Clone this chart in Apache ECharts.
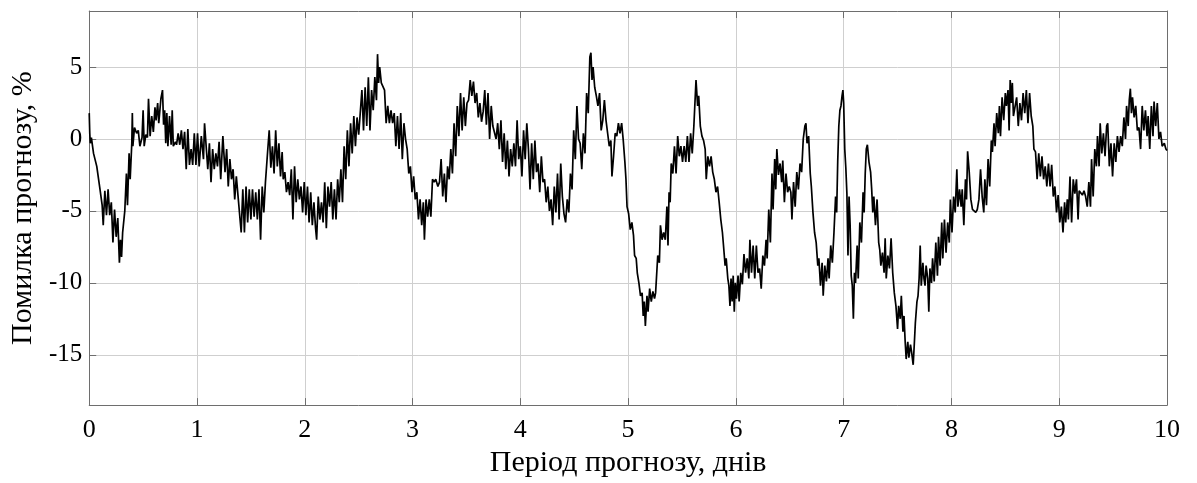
<!DOCTYPE html>
<html>
<head>
<meta charset="utf-8">
<script src="https://cdn.jsdelivr.net/npm/echarts@6/dist/echarts.min.js"></script>
<style>
html,body{margin:0;padding:0;background:#fff;}
#c{width:1197px;height:483px;}
</style>
</head>
<body>
<div id="c"></div>
<script>
// Forecast error (%) vs forecast period (days): [day, error]
const seg0to2 = [
[0,1.8],[0.005,0.4],[0.01,-0.3],[0.02,0.1],[0.04,-1.0],[0.07,-1.9],[0.10,-3.5],[0.12,-4.6],[0.13,-6.0],[0.145,-3.6],
[0.16,-5.3],[0.175,-3.5],[0.19,-5.3],[0.205,-4.4],[0.22,-7.2],[0.235,-4.9],[0.25,-6.8],[0.265,-5.5],[0.28,-8.6],[0.29,-7.0],
[0.30,-8.2],[0.31,-6.5],[0.33,-5.0],[0.345,-2.4],[0.355,-4.6],[0.37,-1.0],[0.38,-2.8],[0.395,-0.3],[0.40,1.8],[0.405,-0.5],
[0.42,0.8],[0.44,0.4],[0.455,0.6],[0.47,-0.5],[0.49,0.1],[0.50,2.0],[0.51,-0.5],[0.525,0.3],[0.54,0.1],[0.55,2.8],
[0.565,0.2],[0.58,1.6],[0.595,0.5],[0.61,2.2],[0.62,1.3],[0.635,2.5],[0.645,1.1],[0.665,2.8],[0.68,3.4],[0.69,1.0],
[0.70,2.0],[0.71,-0.3],[0.72,1.8],[0.73,-0.5],[0.745,1.6],[0.76,-0.4],[0.77,2.0],[0.78,-0.5],[0.80,-0.2],[0.81,-0.4],
[0.825,0.4],[0.84,-0.4],[0.855,0.6],[0.87,-0.7],[0.885,0.5],[0.90,-2.1],[0.915,0.7],[0.93,-1.8],[0.945,-0.7],[0.96,-1.8],
[0.975,0.4],[0.99,-1.8],[1.005,0.4],[1.02,-1.9],[1.04,0.2],[1.06,-1.4],[1.07,1.1],[1.085,-0.5],[1.10,-2.1],[1.115,-0.3],
[1.13,-3.0],[1.145,-0.7],[1.16,-2.1],[1.175,-1.0],[1.19,-1.9],[1.205,-0.2],[1.22,-2.8],[1.24,0.2],[1.26,-2.3],[1.275,-0.7],
[1.29,-3.3],[1.305,-1.4],[1.32,-2.8],[1.335,-2.1],[1.35,-4.2],[1.365,-2.6],[1.38,-3.9],[1.395,-4.0],[1.41,-6.5],[1.425,-3.5],
[1.44,-6.5],[1.455,-3.3],[1.47,-5.8],[1.485,-3.5],[1.50,-5.6],[1.515,-3.5],[1.53,-5.4],[1.545,-3.7],[1.56,-5.6],[1.575,-3.5],
[1.59,-7.0],[1.605,-3.3],[1.62,-5.1],[1.635,-3.0],[1.655,-0.9],[1.67,0.6],[1.685,-2.0],[1.70,-0.5],[1.715,-2.4],[1.73,0.6],
[1.745,-1.9],[1.76,-0.3],[1.775,-2.6],[1.79,-0.9],[1.80,-2.8],[1.815,-2.3],[1.83,-3.7],[1.845,-3.0],[1.86,-3.9],[1.875,-2.1],
[1.89,-5.6],[1.905,-1.9],[1.92,-4.4],[1.935,-2.8],[1.95,-4.2],[1.965,-3.3],[1.98,-5.1],[1.995,-3.0]
];
const seg2to4 = [
[2.01,-5.3],[2.025,-3.3],[2.04,-5.8],[2.055,-3.7],[2.07,-6.0],[2.085,-4.4],[2.10,-6.2],[2.11,-7.0],[2.125,-4.0],[2.14,-5.6],
[2.155,-4.4],[2.17,-5.8],[2.185,-3.0],[2.20,-6.2],[2.215,-3.3],[2.23,-4.7],[2.245,-3.0],[2.26,-5.6],[2.275,-3.5],[2.29,-5.6],
[2.305,-2.8],[2.32,-4.4],[2.335,-2.1],[2.35,-4.4],[2.365,-0.5],[2.38,-2.8],[2.395,0.6],[2.41,-1.9],[2.425,1.1],[2.44,-1.0],
[2.455,1.6],[2.47,-0.5],[2.485,1.5],[2.50,0.3],[2.515,0.2],[2.53,3.4],[2.545,0.6],[2.56,3.6],[2.575,0.9],[2.59,4.3],
[2.605,0.6],[2.62,3.4],[2.635,2.0],[2.65,4.3],[2.665,2.7],[2.675,5.9],[2.685,3.9],[2.695,5.0],[2.71,3.9],[2.725,3.9],
[2.74,3.4],[2.755,1.1],[2.77,2.3],[2.785,1.1],[2.80,2.0],[2.815,1.1],[2.83,1.8],[2.845,-0.5],[2.86,1.6],[2.875,-0.7],
[2.89,1.8],[2.905,-1.4],[2.92,1.1],[2.935,0.0],[2.95,-0.7],[2.965,-2.4],[2.98,-1.9],[2.995,-3.7],[3.01,-2.6],[3.025,-4.2],
[3.04,-3.7],[3.055,-5.6],[3.07,-4.2],[3.085,-6.0],[3.10,-4.4],[3.11,-7.0],[3.125,-4.2],[3.14,-5.4],[3.155,-4.2],[3.17,-5.4],
[3.185,-2.8],[3.20,-3.0],[3.215,-2.8],[3.235,-3.3],[3.25,-3.0],[3.265,-1.4],[3.28,-4.0],[3.295,-2.4],[3.31,-4.4],[3.325,-1.9],
[3.34,-2.8],[3.355,-0.7],[3.37,-2.4],[3.385,1.1],[3.40,-1.2],[3.415,2.3],[3.43,0.2],[3.445,3.2],[3.46,0.6],[3.475,2.9],
[3.49,0.9],[3.505,2.5],[3.52,2.7],[3.535,4.1],[3.55,3.0],[3.565,4.0],[3.58,2.5],[3.595,3.2],[3.61,1.5],[3.625,2.5],
[3.64,1.2],[3.655,1.9],[3.67,3.4],[3.685,1.0],[3.70,3.2],[3.715,0.0],[3.73,2.3],[3.745,0.9],[3.76,0.8],[3.775,0.0],
[3.79,1.1],[3.805,-0.7],[3.82,1.3],[3.835,-1.6],[3.85,0.4],[3.865,-2.1],[3.88,-0.1],[3.895,-2.6],[3.91,-0.7],[3.925,-1.9],
[3.94,-0.3],[3.955,-1.9],[3.97,1.3],[3.985,-1.4]
];
const seg4to6 = [
[4.00,-0.5],[4.015,-2.6],[4.03,0.6],[4.045,-1.4],[4.06,1.1],[4.075,-0.7],[4.09,-3.5],[4.105,-0.3],[4.12,-2.8],[4.135,-0.1],
[4.15,-2.3],[4.165,-1.7],[4.18,-3.7],[4.195,-1.2],[4.21,-3.0],[4.225,-2.8],[4.24,-4.4],[4.255,-3.3],[4.27,-5.0],[4.285,-4.2],
[4.30,-6.0],[4.315,-3.3],[4.33,-5.1],[4.345,-2.4],[4.36,-5.6],[4.375,-1.7],[4.39,-4.0],[4.405,-5.2],[4.42,-5.8],[4.435,-4.2],
[4.45,-5.1],[4.465,-2.4],[4.48,-3.5],[4.495,0.6],[4.51,-1.4],[4.525,2.3],[4.54,0.0],[4.555,-0.3],[4.57,-2.1],[4.585,0.4],
[4.60,-1.0],[4.615,3.2],[4.63,1.8],[4.645,5.7],[4.655,6.0],[4.665,4.1],[4.675,5.0],[4.69,3.6],[4.705,3.0],[4.72,2.3],
[4.735,3.2],[4.75,0.6],[4.765,1.3],[4.78,2.7],[4.795,1.3],[4.81,0.4],[4.825,-0.5],[4.84,-0.1],[4.85,-2.6],[4.865,-1.2],
[4.88,0.4],[4.895,0.2],[4.91,1.1],[4.925,0.4],[4.94,1.1],[4.955,-0.1],[4.97,-1.6],[4.98,-2.8],[4.99,-4.7],[5.005,-5.2],
[5.02,-6.3],[5.035,-5.8],[5.05,-6.7],[5.06,-8.1],[5.075,-8.3],[5.085,-9.3],[5.10,-10.0],[5.115,-10.9],[5.13,-10.7],[5.14,-12.3],
[5.15,-11.3],[5.16,-13.0],[5.175,-10.9],[5.185,-12.0],[5.20,-10.4],[5.215,-11.3],[5.23,-10.6],[5.245,-11.1],[5.255,-10.7],[5.265,-10.6],
[5.275,-8.1],[5.29,-8.6],[5.30,-6.0],[5.315,-7.0],[5.33,-6.5],[5.345,-7.0],[5.36,-4.7],[5.37,-7.4],[5.38,-3.7],[5.39,-4.4],
[5.40,-1.7],[5.415,-2.4],[5.43,-0.5],[5.445,-2.4],[5.46,0.2],[5.475,-1.2],[5.49,-0.5],[5.505,-1.6],[5.52,-0.5],[5.535,-1.6],
[5.55,0.2],[5.565,-1.6],[5.58,0.4],[5.595,-1.0],[5.61,0.9],[5.62,2.5],[5.63,4.1],[5.645,2.3],[5.655,3.0],[5.67,0.9],
[5.685,0.2],[5.70,-0.1],[5.715,-0.7],[5.725,-2.8],[5.74,-1.2],[5.755,-1.9],[5.77,-1.2],[5.785,-2.3],[5.80,-2.8],[5.815,-3.7],
[5.83,-3.3],[5.845,-4.4],[5.86,-5.6],[5.875,-6.5],[5.885,-7.4],[5.90,-8.8],[5.91,-8.3],[5.925,-9.7],[5.935,-10.2],[5.945,-11.6],
[5.955,-9.7],[5.965,-11.3],[5.975,-9.5],[5.985,-12.0],[5.995,-10.0]
];
const seg6to8 = [
[6.005,-11.1],[6.02,-9.5],[6.03,-11.3],[6.045,-9.3],[6.06,-10.1],[6.075,-8.0],[6.09,-9.3],[6.105,-8.3],[6.12,-9.7],[6.13,-7.0],
[6.145,-9.3],[6.16,-7.4],[6.175,-9.7],[6.19,-7.4],[6.205,-9.3],[6.22,-9.0],[6.235,-10.4],[6.25,-8.1],[6.265,-8.8],[6.28,-7.0],
[6.29,-8.3],[6.305,-4.9],[6.32,-7.2],[6.335,-2.4],[6.345,-4.9],[6.36,-1.4],[6.37,-3.5],[6.38,-0.7],[6.395,-2.5],[6.41,-1.7],
[6.425,-3.0],[6.435,-1.5],[6.45,-4.4],[6.465,-2.4],[6.48,-3.7],[6.495,-3.3],[6.51,-3.7],[6.52,-5.6],[6.535,-3.0],[6.55,-4.7],
[6.565,-2.3],[6.58,-3.5],[6.595,-1.7],[6.61,-2.3],[6.625,0.0],[6.64,0.9],[6.65,1.1],[6.66,-0.3],[6.675,0.2],[6.69,-2.4],
[6.70,-3.3],[6.715,-5.1],[6.73,-6.5],[6.745,-7.2],[6.76,-8.8],[6.77,-8.3],[6.785,-10.2],[6.80,-8.6],[6.81,-10.9],[6.825,-8.8],
[6.84,-9.9],[6.855,-8.3],[6.865,-9.7],[6.88,-7.4],[6.895,-8.6],[6.91,-6.5],[6.925,-4.0],[6.935,-5.1],[6.945,-1.5],[6.955,0.9],
[6.965,2.0],[6.975,2.3],[6.985,3.0],[6.993,3.4],[7.00,2.5],[7.01,-0.7],[7.02,-2.0],[7.03,-3.8],[7.04,-8.1],[7.05,-4.0],
[7.06,-6.0],[7.07,-9.5],[7.08,-10.2],[7.09,-12.5],[7.10,-9.3],[7.11,-10.0],[7.125,-7.4],[7.135,-9.7],[7.15,-5.8],[7.165,-7.2],
[7.18,-3.7],[7.19,-5.1],[7.20,-2.4],[7.21,-0.7],[7.22,-0.4],[7.235,-1.6],[7.25,-2.3],[7.26,-3.5],[7.27,-5.1],[7.28,-4.0],
[7.295,-6.0],[7.31,-4.2],[7.325,-7.2],[7.335,-7.7],[7.345,-8.8],[7.36,-7.9],[7.375,-9.3],[7.385,-6.9],[7.395,-9.7],[7.41,-8.1],
[7.425,-9.0],[7.44,-6.9],[7.455,-9.3],[7.47,-10.7],[7.485,-11.6],[7.50,-13.2],[7.51,-11.6],[7.525,-12.5],[7.535,-10.9],[7.55,-13.4],
[7.56,-12.3],[7.57,-14.0],[7.58,-15.3],[7.595,-14.1],[7.605,-15.2],[7.62,-14.3],[7.63,-14.8],[7.645,-15.7],[7.655,-14.3],[7.665,-12.8],
[7.68,-11.3],[7.69,-10.9],[7.70,-9.7],[7.71,-7.4],[7.72,-10.2],[7.735,-8.6],[7.745,-9.7],[7.755,-10.2],[7.765,-8.8],[7.78,-9.7],
[7.79,-12.0],[7.80,-9.0],[7.815,-10.0],[7.825,-8.3],[7.84,-9.9],[7.855,-7.2],[7.87,-9.5],[7.88,-6.8],[7.895,-8.8],[7.91,-5.8],
[7.92,-8.3],[7.935,-5.6],[7.95,-7.9],[7.965,-5.8],[7.98,-7.2],[7.99,-4.2]
];
const seg8to10 = [
[8.005,-6.5],[8.02,-4.0],[8.035,-5.1],[8.05,-2.1],[8.06,-4.7],[8.075,-3.5],[8.09,-4.7],[8.10,-3.5],[8.115,-6.0],[8.13,-2.8],
[8.14,-4.2],[8.15,-0.85],[8.165,-2.3],[8.18,-4.2],[8.195,-4.9],[8.21,-5.0],[8.225,-5.1],[8.24,-4.9],[8.255,-4.2],[8.27,-2.1],
[8.285,-4.0],[8.30,-5.1],[8.31,-2.8],[8.325,-4.6],[8.34,-1.4],[8.355,-3.3],[8.37,-0.1],[8.38,-0.9],[8.395,1.1],[8.405,-0.5],
[8.42,1.8],[8.435,0.4],[8.445,2.3],[8.455,0.2],[8.47,2.9],[8.485,1.3],[8.50,3.2],[8.51,2.3],[8.525,3.4],[8.535,0.6],
[8.545,4.1],[8.555,2.5],[8.565,3.9],[8.575,1.6],[8.59,1.5],[8.605,2.9],[8.62,0.9],[8.635,2.5],[8.65,1.3],[8.665,3.2],
[8.68,1.8],[8.695,3.4],[8.71,1.1],[8.725,3.2],[8.74,1.6],[8.755,0.9],[8.765,-0.7],[8.78,-0.9],[8.795,-2.8],[8.81,-1.0],
[8.825,-2.6],[8.84,-1.2],[8.855,-2.8],[8.87,-1.9],[8.885,-3.3],[8.90,-1.7],[8.915,-3.3],[8.93,-1.8],[8.945,-4.0],[8.96,-3.3],
[8.975,-5.1],[8.99,-3.9],[9.005,-5.8],[9.02,-4.7],[9.035,-6.5],[9.05,-4.4],[9.06,-5.8],[9.075,-4.2],[9.085,-5.6],[9.10,-2.6],
[9.115,-5.8],[9.13,-2.8],[9.145,-3.8],[9.16,-2.8],[9.175,-5.6],[9.185,-3.6],[9.20,-3.6],[9.215,-3.9],[9.23,-3.6],[9.245,-4.0],
[9.26,-4.7],[9.275,-3.0],[9.29,-4.7],[9.30,-1.4],[9.315,-4.0],[9.33,-0.7],[9.345,-1.9],[9.355,0.2],[9.37,-1.9],[9.38,1.1],
[9.395,-1.0],[9.41,0.4],[9.425,-1.2],[9.44,0.9],[9.45,1.1],[9.465,-1.9],[9.48,-0.3],[9.495,-2.6],[9.51,-0.3],[9.525,-1.6],
[9.54,0.2],[9.555,-0.9],[9.57,0.2],[9.585,-0.5],[9.60,1.5],[9.615,0.0],[9.625,2.3],[9.64,0.9],[9.65,2.7],[9.66,3.5],
[9.67,1.8],[9.68,2.9],[9.695,1.5],[9.71,2.3],[9.725,0.6],[9.74,0.8],[9.755,-0.7],[9.77,2.3],[9.785,0.6],[9.80,2.0],
[9.815,0.2],[9.825,1.6],[9.84,-0.7],[9.855,2.3],[9.87,0.2],[9.88,2.6],[9.895,0.9],[9.91,2.5],[9.925,0.0],[9.94,0.5],
[9.955,-0.5],[9.975,-0.3],[9.99,-0.7],[10.0,-0.8]
];
const xTicks = [0,1,2,3,4,5,6,7,8,9,10];
const yTicks = [-15,-10,-5,0,5];
const xName = 'Період прогнозу, днів';
const yName = 'Помилка прогнозу, %';

const series = seg0to2.concat(seg2to4, seg4to6, seg6to8, seg8to10);

const FONT = 'Liberation Serif';
const frame = '#6e6e6e';
const gridC = '#cfcfcf';

const chart = echarts.init(document.getElementById('c'), null, {renderer: 'canvas'});
chart.setOption({
  animation: false,
  backgroundColor: '#fff',
  grid: {left: 88, right: 30, top: 11, bottom: 76, containLabel: false},
  xAxis: [{
    type: 'value', min: xTicks[0], max: xTicks[xTicks.length - 1], interval: 1,
    axisLine: {show: true, onZero: false, lineStyle: {color: frame, width: 1}},
    axisTick: {show: true, inside: true, length: 7, lineStyle: {color: frame}},
    axisLabel: {margin: 12, fontFamily: FONT, fontSize: 26, color: '#000'},
    splitLine: {show: true, lineStyle: {color: gridC, width: 1}},
    name: xName, nameLocation: 'middle', nameGap: 41,
    nameTextStyle: {fontFamily: FONT, fontSize: 30, color: '#000'}
  }, {
    type: 'value', position: 'top', min: xTicks[0], max: xTicks[xTicks.length - 1], interval: 1,
    axisLine: {show: true, onZero: false, lineStyle: {color: frame, width: 1}},
    axisTick: {show: true, inside: true, length: 7, lineStyle: {color: frame}},
    axisLabel: {show: false}, splitLine: {show: false}
  }],
  yAxis: [{
    type: 'value', min: -18.5, max: 8.9, splitNumber: 5,
    axisLine: {show: true, onZero: false, lineStyle: {color: frame, width: 1}},
    axisTick: {show: true, inside: true, length: 7, lineStyle: {color: frame}},
    axisLabel: {margin: 7, fontFamily: FONT, fontSize: 25, color: '#000',
      formatter: v => (yTicks.indexOf(Math.round(v * 1000) / 1000) >= 0 ? String(v) : '')},
    splitLine: {show: true, lineStyle: {color: gridC, width: 1}},
    name: yName, nameLocation: 'middle', nameGap: 50, nameRotate: 90,
    nameTextStyle: {fontFamily: FONT, fontSize: 30, color: '#000'}
  }, {
    type: 'value', position: 'right', min: -18.5, max: 8.9, splitNumber: 5,
    axisLine: {show: true, onZero: false, lineStyle: {color: frame, width: 1}},
    axisTick: {show: true, inside: true, length: 7, lineStyle: {color: frame}},
    axisLabel: {show: false}, splitLine: {show: false}
  }],
  series: [{
    type: 'line', xAxisIndex: 0, yAxisIndex: 0,
    data: series, showSymbol: false, symbol: 'none', sampling: null,
    lineStyle: {color: '#000', width: 1.7}, z: 5
  }]
});
</script>
</body>
</html>
